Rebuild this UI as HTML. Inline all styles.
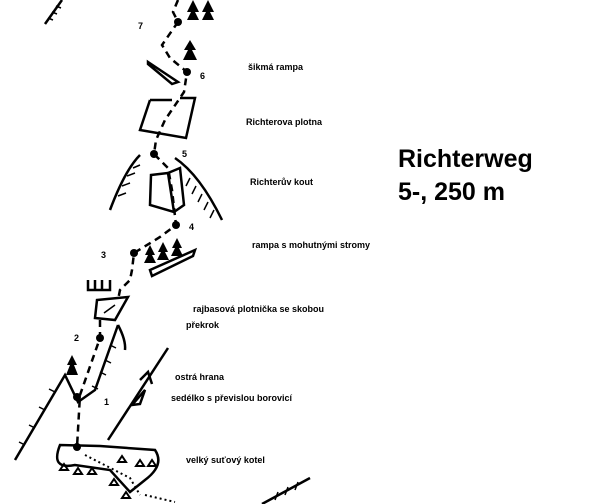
<!DOCTYPE html>
<html><head><meta charset="utf-8"><style>
body{margin:0;background:#fff}
svg{display:block}
text{font-family:"Liberation Sans",sans-serif}
.l{font-size:9px;font-weight:bold}
.n{font-size:9px;font-weight:bold}
</style></head><body>
<svg width="600" height="504" viewBox="0 0 600 504" xmlns="http://www.w3.org/2000/svg">
<g stroke="#000" fill="none" stroke-width="2.5">
<!-- top left ridge -->
<path d="M45 24 L62 0"/>
<path d="M48 18 l5 2 M52 12 l5 2 M56 6 l5 2" stroke-width="1.5"/>
<!-- route dashes -->
<path d="M178 0 L173 12 L178 22 L162 45 L170 58 L187 72 L184 92 L165 120 L156 140 L154 154 L168 168 L172 190 L176 225 L160 237 L134 253 L132 270 L130 280 L120 290 L118 300 M100 320 L100 338 L80 395 L77 447" stroke-dasharray="7,5"/>
<!-- ramp 6 -->
<path d="M148 62 L178 82 L172 84 L148 64 Z"/>
<!-- plotna -->
<path d="M150 100 L172 100 M180 98 L195 98 L186 138 L140 130 L150 100"/>
<!-- kout arch -->
<path d="M110 210 Q125 170 140 155"/>
<path d="M175 158 Q200 175 222 220"/>
<path d="M151 175 L168 173 L174 212 L150 205 Z"/>
<path d="M168 173 L180 168 L184 205 L174 212"/>
<g stroke-width="1.5">
<path d="M118 196 l8 -3 M122 186 l8 -3 M127 176 l8 -3 M133 168 l7 -3 M190 178 l-4 8 M196 186 l-4 8 M202 194 l-4 8 M208 202 l-4 8 M214 210 l-4 8"/>
</g>
<!-- ramp 4 -->
<path d="M150 270 L195 250 L193 256 L152 276 Z"/>
<!-- railing -->
<path d="M88 280 L88 290 L110 290 L110 280 M95 280 L95 290 M102 280 L102 290"/>
<!-- rajbas plotnička -->
<path d="M97 300 L128 297 L115 320 L95 318 Z"/>
<path d="M104 313 L115 305" stroke-width="1.5"/>
<!-- ridge 2/1 -->
<path d="M118 325 L95 390 L78 402 L65 375 L15 460"/>
<path d="M118 325 Q126 340 125 350"/>
<g stroke-width="1.5">
<path d="M110 345 l6 3 M105 360 l6 3 M100 372 l6 3 M92 386 l6 3 M55 392 l-6 -3 M45 410 l-6 -3 M35 428 l-6 -3 M25 445 l-6 -3"/>
</g>
<!-- sharp edge -->
<path d="M108 440 L168 348"/>
<path d="M140 380 L148 372 L152 384 M132 405 L145 390 L140 404 Z"/>
<!-- kotel -->
<path d="M60 445 Q50 470 75 465 L110 470 L130 492 L145 480 Q165 465 155 450 L100 446 Z"/>
<!-- bottom right ridge -->
<path d="M262 504 L310 478"/>
<path d="M275 500 l3 -8 M285 495 l3 -8 M295 490 l3 -8" stroke-width="1.5"/>
</g>
<g stroke="#000" fill="none" stroke-width="2" stroke-dasharray="2,3">
<path d="M85 455 L130 478 L140 495 M145 495 L175 502"/>
</g>
<!-- triangles -->
<g fill="none" stroke="#000" stroke-width="2">
<path d="M60 470 l4 -6 l4 6 Z M74 474 l4 -6 l4 6 Z M88 474 l4 -6 l4 6 Z M118 462 l4 -6 l4 6 Z M136 466 l4 -6 l4 6 Z M148 466 l4 -6 l4 6 Z M110 485 l4 -6 l4 6 Z M122 498 l4 -6 l4 6 Z"/>
</g>
<!-- trees -->
<g fill="#000">
<path d="M193 0 l-6 12 h4 l-4 8 h12 l-4 -8 h4 Z M208 0 l-6 12 h4 l-4 8 h12 l-4 -8 h4 Z"/>
<path d="M190 40 l-6 10 h4 l-5 10 h14 l-5 -10 h4 Z"/>
<path d="M150 245 l-5 10 h3 l-4 8 h12 l-4 -8 h3 Z M163 242 l-5 10 h3 l-4 8 h12 l-4 -8 h3 Z M177 238 l-5 10 h3 l-4 8 h12 l-4 -8 h3 Z"/>
<path d="M72 355 l-5 10 h3 l-4 10 h12 l-4 -10 h3 Z"/>
<circle cx="178" cy="22" r="4"/><circle cx="187" cy="72" r="4"/><circle cx="154" cy="154" r="4"/><circle cx="176" cy="225" r="4"/><circle cx="134" cy="253" r="4"/><circle cx="100" cy="338" r="4"/><circle cx="77" cy="397" r="4"/><circle cx="77" cy="447" r="4"/>
</g>
<g class="n">
<text x="138" y="29">7</text><text x="200" y="79">6</text><text x="182" y="157">5</text><text x="189" y="230">4</text><text x="101" y="258">3</text><text x="74" y="341">2</text><text x="104" y="405">1</text>
</g>
<g class="l">
<text x="248" y="70">šikmá rampa</text>
<text x="246" y="125">Richterova plotna</text>
<text x="250" y="185">Richterův kout</text>
<text x="252" y="248">rampa s mohutnými stromy</text>
<text x="193" y="312">rajbasová plotnička se skobou</text>
<text x="186" y="328">překrok</text>
<text x="175" y="380">ostrá  hrana</text>
<text x="171" y="401">sedélko s převislou borovicí</text>
<text x="186" y="463">velký suťový kotel</text>
</g>
<text x="398" y="167" font-size="25" font-weight="bold">Richterweg</text>
<text x="398" y="200" font-size="25" font-weight="bold">5-, 250 m</text>
</svg>
</body></html>
